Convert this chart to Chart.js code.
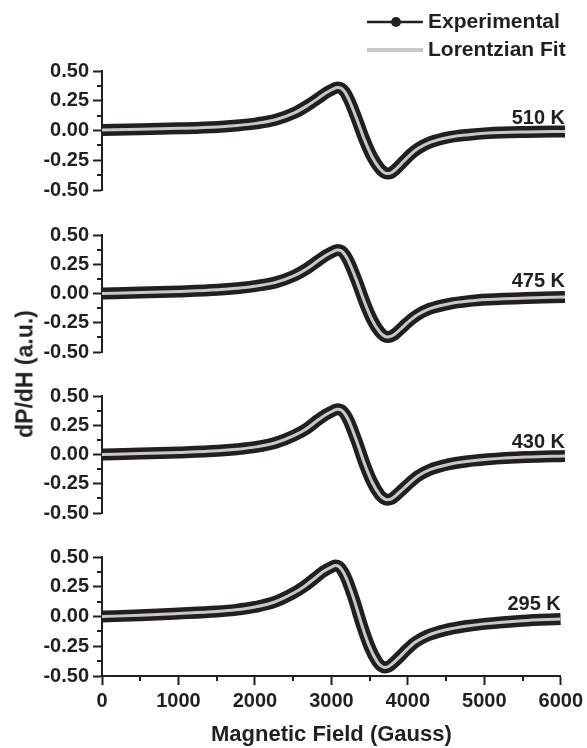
<!DOCTYPE html>
<html>
<head>
<meta charset="utf-8">
<script src="https://cdn.jsdelivr.net/npm/chart.js@4.4.0/dist/chart.umd.min.js"></script>
<style>
  html, body { margin: 0; padding: 0; background: #fff; }
  #wrap { position: relative; width: 587px; height: 748px; overflow: hidden; }
  .panel { position: absolute; left: 0; width: 587px; }
  #ytitle {
    position: absolute; left: 25px; top: 374px;
    transform: translate(-50%, -50%) rotate(-90deg);
    font: bold 23px "Liberation Sans", Arial, sans-serif;
    color: #231f20; white-space: nowrap;
  }
</style>
</head>
<body>
<div id="wrap">
  <div class="panel" style="top:0"><canvas id="p510" width="587" height="206"></canvas></div>
  <div class="panel" style="top:219px"><canvas id="p475" width="587" height="149"></canvas></div>
  <div class="panel" style="top:380px"><canvas id="p430" width="587" height="149"></canvas></div>
  <div class="panel" style="top:541px"><canvas id="p295" width="587" height="207"></canvas></div>
  <div id="ytitle">dP/dH (a.u.)</div>
</div>
<script>
// Data (Gauss, a.u.)
const field = [0, 500, 1000, 1500, 1750, 2000, 2250, 2500, 2650, 2800, 2900, 3000, 3050, 3100, 3150, 3200, 3300, 3400, 3500, 3600, 3650, 3700, 3750, 3800, 3900, 4000, 4100, 4250, 4500, 4750, 5000, 5500, 6000];
const sig510 = [0.005, 0.01, 0.018, 0.03, 0.042, 0.06, 0.09, 0.15, 0.205, 0.27, 0.315, 0.35, 0.362, 0.355, 0.32, 0.26, 0.10, -0.075, -0.22, -0.32, -0.35, -0.362, -0.355, -0.33, -0.265, -0.20, -0.15, -0.10, -0.056, -0.035, -0.022, -0.012, -0.008];
const sig475 = [0.0, 0.008, 0.018, 0.032, 0.045, 0.065, 0.095, 0.155, 0.21, 0.28, 0.325, 0.36, 0.372, 0.365, 0.33, 0.27, 0.11, -0.07, -0.225, -0.33, -0.36, -0.372, -0.365, -0.345, -0.285, -0.225, -0.178, -0.13, -0.088, -0.065, -0.052, -0.038, -0.03];
const sig430 = [0.0, 0.008, 0.018, 0.032, 0.045, 0.065, 0.10, 0.165, 0.22, 0.295, 0.34, 0.375, 0.387, 0.38, 0.345, 0.285, 0.115, -0.075, -0.235, -0.345, -0.375, -0.387, -0.38, -0.355, -0.295, -0.235, -0.182, -0.13, -0.083, -0.057, -0.041, -0.022, -0.012];
const sig295 = [0.0, 0.01, 0.025, 0.042, 0.056, 0.08, 0.12, 0.195, 0.255, 0.33, 0.38, 0.415, 0.428, 0.42, 0.38, 0.315, 0.135, -0.075, -0.255, -0.38, -0.415, -0.428, -0.42, -0.395, -0.335, -0.27, -0.215, -0.162, -0.112, -0.082, -0.062, -0.036, -0.022];
const yTicks = [-0.5, -0.25, 0, 0.25, 0.5];
const xTicks = [0, 1000, 2000, 3000, 4000, 5000, 6000];

const ink = '#231f20';
const fitGray = '#c8c8c8';
const fontFam = '"Liberation Sans", Arial, Helvetica, sans-serif';

function series(vals) {
    return field.map((x, i) => ({ x: x, y: vals[i] }));
}

// minor ticks halfway between the major ones
const minorTicks = {
    id: 'minorTicks',
    afterDraw(chart) {
        const ctx = chart.ctx;
        ctx.save();
        ctx.strokeStyle = ink;
        ctx.lineWidth = 2;
        const y = chart.scales.y;
        for (let i = 0; i < yTicks.length - 1; i++) {
            const py = Math.round(y.getPixelForValue((yTicks[i] + yTicks[i + 1]) / 2));
            ctx.beginPath();
            ctx.moveTo(y.right, py);
            ctx.lineTo(y.right - 5, py);
            ctx.stroke();
        }
        const x = chart.scales.x;
        if (x.options.display) {
            for (let i = 0; i < xTicks.length - 1; i++) {
                const px = Math.round(x.getPixelForValue((xTicks[i] + xTicks[i + 1]) / 2));
                ctx.beginPath();
                ctx.moveTo(px, x.top);
                ctx.lineTo(px, x.top + 5);
                ctx.stroke();
            }
        }
        ctx.restore();
    }
};

// temperature tag at the right end of each panel
const tempTag = {
    id: 'tempTag',
    afterDraw(chart, args, opts) {
        const ctx = chart.ctx;
        const y = chart.scales.y;
        ctx.save();
        ctx.font = 'bold 20px ' + fontFam;
        ctx.fillStyle = ink;
        ctx.textAlign = 'right';
        ctx.textBaseline = 'alphabetic';
        ctx.fillText(opts.text, chart.chartArea.right, y.getPixelForValue(0) - 7);
        ctx.restore();
    }
};

// legend in the top right corner of the figure
const cornerLegend = {
    id: 'cornerLegend',
    afterDraw(chart, args, opts) {
        if (!opts.show) return;
        const ctx = chart.ctx;
        ctx.save();
        ctx.font = 'bold 21px ' + fontFam;
        ctx.fillStyle = ink;
        ctx.textAlign = 'left';
        ctx.textBaseline = 'middle';
        // Experimental
        ctx.strokeStyle = ink;
        ctx.lineWidth = 2.5;
        ctx.beginPath();
        ctx.moveTo(367, 22);
        ctx.lineTo(423, 22);
        ctx.stroke();
        ctx.beginPath();
        ctx.arc(396, 22, 5, 0, Math.PI * 2);
        ctx.fill();
        ctx.fillText('Experimental', 428, 22);
        // Lorentzian Fit
        ctx.strokeStyle = fitGray;
        ctx.lineWidth = 4;
        ctx.beginPath();
        ctx.moveTo(367, 50);
        ctx.lineTo(423, 50);
        ctx.stroke();
        ctx.fillText('Lorentzian Fit', 428, 50);
        ctx.restore();
    }
};

function makePanel(id, vals, tag, opt) {
    const ctx = document.getElementById(id).getContext('2d');
    return new Chart(ctx, {
        type: 'line',
        data: {
            datasets: [
                { label: 'Experimental', data: series(vals), borderColor: ink, borderWidth: 12, pointRadius: 0, order: 2,
                  borderJoinStyle: 'round', cubicInterpolationMode: 'monotone' },
                { label: 'Lorentzian Fit', data: series(vals), borderColor: fitGray, borderWidth: 3, pointRadius: 0, order: 1,
                  borderJoinStyle: 'round', cubicInterpolationMode: 'monotone' }
            ]
        },
        options: {
            responsive: false,
            animation: false,
            layout: { padding: { left: 0, right: 22, top: opt.top, bottom: opt.bottom } },
            plugins: {
                legend: { display: false },
                tooltip: { enabled: false },
                tempTag: { text: tag },
                cornerLegend: { show: !!opt.legend }
            },
            scales: {
                x: {
                    type: 'linear', min: 0, max: 6000,
                    display: !!opt.xAxis,
                    afterBuildTicks: s => { s.ticks = xTicks.map(v => ({ value: v })); },
                    afterFit: s => { s.height = opt.xAxis ? 72 : 0; },
                    border: { display: true, color: ink, width: 2 },
                    grid: { display: true, drawOnChartArea: false, drawTicks: true, tickLength: 9, tickColor: ink, tickWidth: 2 },
                    ticks: { color: ink, font: { family: fontFam, size: 20, weight: 'bold' }, padding: 4, maxRotation: 0,
                             autoSkip: false, callback: v => String(v) },
                    title: { display: true, text: 'Magnetic Field (Gauss)', color: ink,
                             font: { family: fontFam, size: 22, weight: 'bold' }, padding: { top: 0, bottom: 0 } }
                },
                y: {
                    min: -0.5, max: 0.5,
                    afterBuildTicks: s => { s.ticks = yTicks.map(v => ({ value: v })); },
                    afterFit: s => { s.width = 102; },
                    border: { display: true, color: ink, width: 2 },
                    grid: { display: true, drawOnChartArea: false, drawTicks: true, tickLength: 9, tickColor: ink, tickWidth: 2 },
                    ticks: { color: ink, font: { family: fontFam, size: 20, weight: 'bold' }, padding: 4,
                             autoSkip: false, callback: v => v.toFixed(2) }
                }
            }
        },
        plugins: [minorTicks, tempTag, cornerLegend]
    });
}

makePanel('p510', sig510, '510 K', { top: 71, bottom: 14, legend: true });
makePanel('p475', sig475, '475 K', { top: 14, bottom: 14 });
makePanel('p430', sig430, '430 K', { top: 14, bottom: 14 });
makePanel('p295', sig295, '295 K', { top: 14, bottom: 0, xAxis: true });
</script>
</body>
</html>
